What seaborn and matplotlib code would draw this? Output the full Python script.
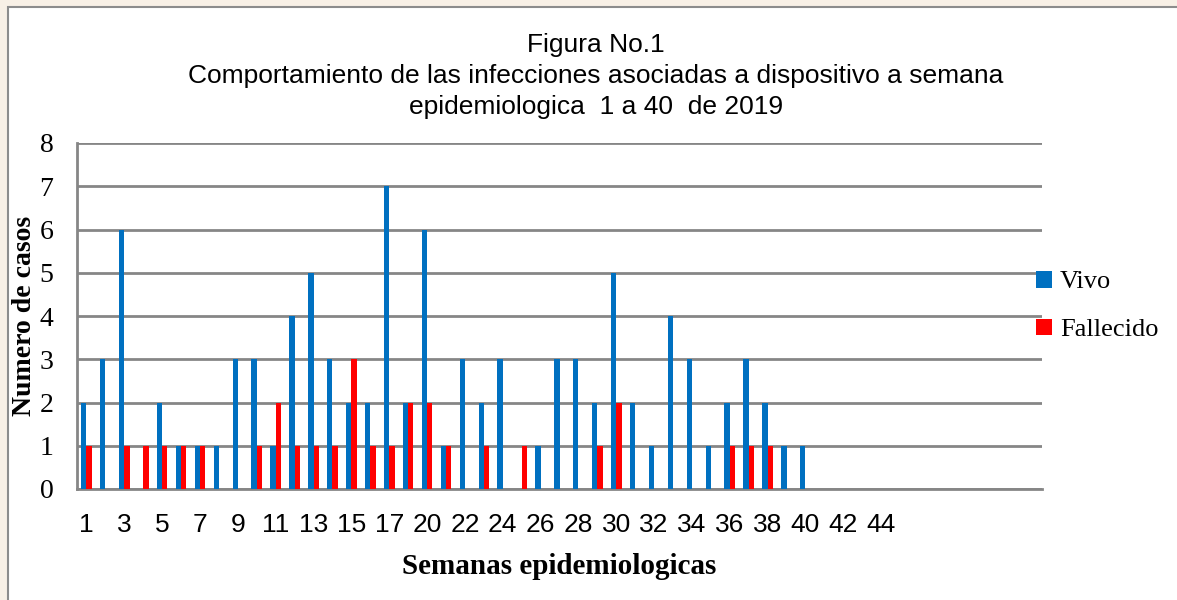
import matplotlib
matplotlib.use("Agg")
import matplotlib.pyplot as plt
from matplotlib.patches import Patch, Rectangle
import seaborn as sns
import pandas as pd

# ---- data ----
semanas = ["1", "2", "3", "4", "5", "6", "7", "8", "9", "10", "11", "12", "13",
           "14", "15", "16", "17", "18", "20", "21", "22", "23", "24", "25", "26",
           "27", "28", "29", "30", "31", "32", "33", "34", "35", "36", "37", "38",
           "39", "40", "41", "42", "43", "44", "45", "46", "47", "48", "49", "50",
           "51", "52"]
semanas_con_datos = semanas[:39]
vivo = [2, 3, 6, 0, 2, 1, 1, 1, 3, 3, 1, 4, 5, 3, 2, 2, 7, 2, 6, 1, 3, 2, 3, 0,
        1, 3, 3, 2, 5, 2, 1, 4, 3, 1, 2, 3, 2, 1, 1]
fallecido = [1, 0, 1, 1, 1, 1, 1, 0, 0, 1, 2, 1, 1, 1, 3, 1, 1, 2, 2, 1, 0, 1, 0,
             1, 0, 0, 0, 1, 2, 0, 0, 0, 0, 0, 1, 1, 1, 0, 0]
ultima_etiqueta = "44"
series = ["Vivo", "Fallecido"]
colores = ["#0070C0", "#FF0000"]
yticks = [0, 1, 2, 3, 4, 5, 6, 7, 8]
titulo = ["Figura No.1",
          "Comportamiento de las infecciones asociadas a dispositivo a semana",
          "epidemiologica  1 a 40  de 2019"]
xlabel = "Semanas epidemiologicas"
ylabel = "Numero de casos"

df = pd.DataFrame({
    "semana": semanas_con_datos * 2,
    "estado": ["Vivo"] * len(vivo) + ["Fallecido"] * len(fallecido),
    "casos": vivo + fallecido,
})

SANS = ["Liberation Sans", "DejaVu Sans"]
SERIF = ["Liberation Serif", "DejaVu Serif"]
GRAY = "#868686"

sns.set_theme(style="white")
plt.rcParams["font.family"] = SANS
plt.rcParams["text.color"] = "black"
plt.rcParams["xtick.color"] = "black"
plt.rcParams["ytick.color"] = "black"
plt.rcParams["axes.labelcolor"] = "black"

W, H = 1177, 600
fig = plt.figure(figsize=(W / 100, H / 100), dpi=100)
fig.patch.set_facecolor("#f8f0e6")
marco = Rectangle((8 / W, -0.1), 1.2, 1 - 7 / H + 0.1,
                  transform=fig.transFigure, facecolor="white",
                  edgecolor="#8c8c8c", linewidth=1.5, zorder=-5)
fig.add_artist(marco)

ax = fig.add_axes([77 / W, 1 - 489 / H, (1042 - 77) / W, (489 - 143) / H])
ax.set_facecolor("none")
ax.set_zorder(2)

sns.barplot(data=df, x="semana", y="casos", hue="estado", order=semanas,
            hue_order=series, palette=colores, width=0.56, saturation=1,
            ax=ax, legend=False, zorder=3, linewidth=0, edgecolor="none")

ax.set_xlim(-0.5, len(semanas) - 0.5)
ax.set_ylim(0, 8)
ax.set_yticks(yticks)
ax.set_yticklabels([str(v) for v in yticks], family=SERIF, fontsize=20)
ax.yaxis.grid(True, color=GRAY, linewidth=2, zorder=0)
ax.set_axisbelow(True)

idx_ult = semanas.index(ultima_etiqueta)
ax.set_xticks(range(len(semanas)))
ax.set_xticklabels([s if (i % 2 == 0 and i <= idx_ult) else ""
                    for i, s in enumerate(semanas)], fontsize=19)
ax.set_xticks([i - 0.5 for i in range(len(semanas) + 1)], minor=True)
ax.tick_params(axis="x", which="major", length=0, pad=17)
ax.tick_params(axis="x", which="minor", length=8, width=1.5, color=GRAY,
               direction="out")
ax.tick_params(axis="y", length=8, width=1.5, color=GRAY, labelcolor="black",
               direction="out", pad=9)

for side in ["top", "right"]:
    ax.spines[side].set_visible(False)
for side in ["left", "bottom"]:
    ax.spines[side].set_color(GRAY)
    ax.spines[side].set_linewidth(2)

ax.set_xlabel(xlabel, family=SERIF, fontweight="bold", fontsize=21, labelpad=12)
ax.set_ylabel("")
fig.text(25 / W, 1 - 316 / H, ylabel, family=SERIF, fontweight="bold",
         fontsize=20, rotation=90, ha="center", va="center")

for t, yc in zip(titulo, [45, 76, 107]):
    fig.text(596 / W, 1 - yc / H, t, ha="center", va="center", fontsize=19,
             family=SANS)

handles = [Patch(facecolor=c, edgecolor="none") for c in colores]
fig.legend(handles, series, loc="center left",
           bbox_to_anchor=(1036 / W, 1 - 306 / H), frameon=False,
           prop={"family": SERIF, "size": 19}, handlelength=0.6,
           handleheight=0.6, handletextpad=0.3, labelspacing=0.95,
           borderaxespad=0, borderpad=0)

fig.savefig("out.png", dpi=100, facecolor=fig.get_facecolor())
